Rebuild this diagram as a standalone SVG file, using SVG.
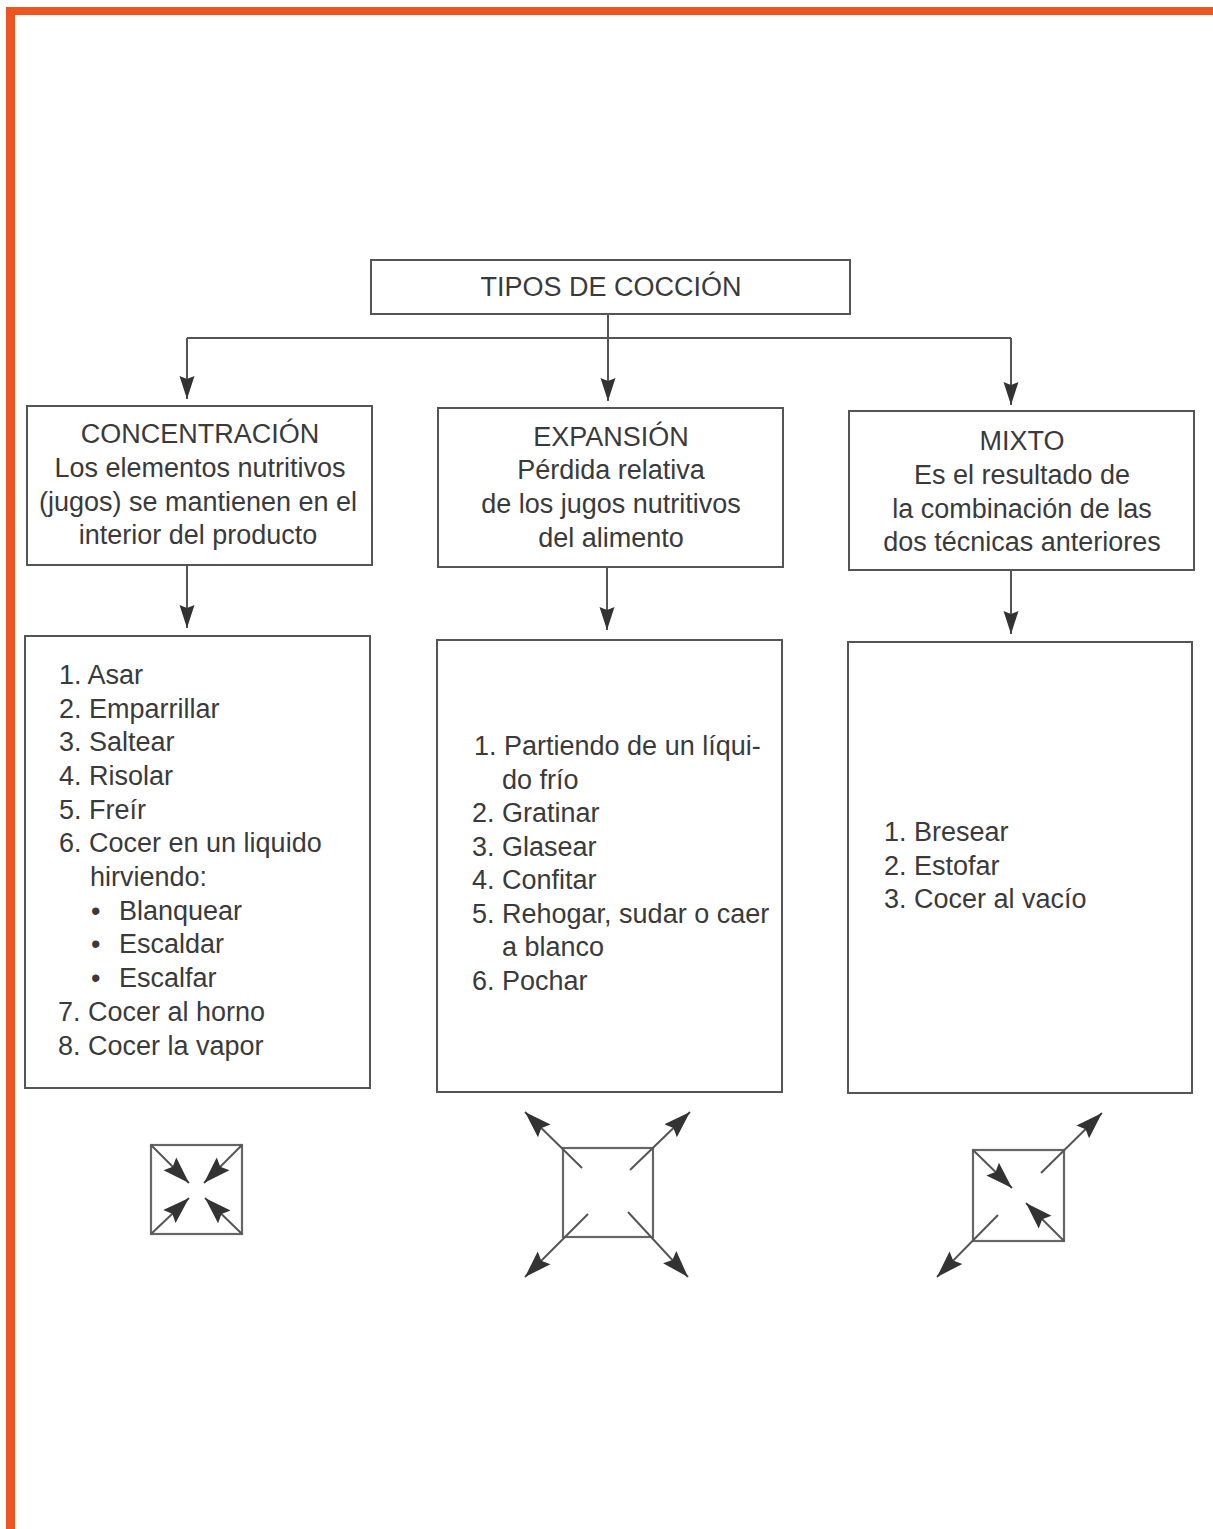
<svg xmlns="http://www.w3.org/2000/svg" width="1213" height="1529" viewBox="0 0 1213 1529">
<defs>
<style>
.box{fill:none;stroke:#555;stroke-width:2}
.t{font-family:"Liberation Sans",Arial,sans-serif;font-size:27px;fill:#3a3a3a}
.c{text-anchor:middle}
.ln{stroke:#555;stroke-width:2;fill:none}
.sq{fill:none;stroke:#666;stroke-width:2.2}
</style>
<marker id="ah" markerUnits="userSpaceOnUse" markerWidth="24" markerHeight="18" viewBox="0 0 24 18" refX="23" refY="9" orient="auto">
<path d="M0,1.5 L23,9 L0,16.5 L3,9 Z" fill="#333"/>
</marker>
<marker id="ahb" markerUnits="userSpaceOnUse" markerWidth="28" markerHeight="22" viewBox="0 0 28 22" refX="27" refY="11" orient="auto">
<path d="M0,2 L27,11 L0,20 L4,11 Z" fill="#333"/>
</marker>
</defs>
<rect x="0" y="0" width="1213" height="1529" fill="#ffffff"/>
<rect x="6" y="7" width="1207" height="8" fill="#EC5422"/>
<rect x="6" y="7" width="9" height="1522" fill="#EC5422"/>

<g id="connectors">
<path class="ln" d="M608,314 V338"/>
<path class="ln" d="M187,338 H1011"/>
<path class="ln" d="M187,338 V399" marker-end="url(#ah)"/>
<path class="ln" d="M608,338 V401" marker-end="url(#ah)"/>
<path class="ln" d="M1011,338 V405" marker-end="url(#ah)"/>
<path class="ln" d="M187,565 V628" marker-end="url(#ah)"/>
<path class="ln" d="M607,567 V630" marker-end="url(#ah)"/>
<path class="ln" d="M1011,570 V634" marker-end="url(#ah)"/>
</g>

<g id="tipos">
<rect class="box" x="371" y="260" width="479" height="54"/>
<text class="t c" x="611" y="296">TIPOS DE COCCIÓN</text>
</g>

<g id="concentracion">
<rect class="box" x="27" y="406" width="345" height="159"/>
<text class="t c" x="200" y="443">CONCENTRACIÓN</text>
<text class="t c" x="200" y="477">Los elementos nutritivos</text>
<text class="t c" x="198" y="511">(jugos) se mantienen en el</text>
<text class="t c" x="198" y="544">interior del producto</text>
</g>

<g id="expansion">
<rect class="box" x="438" y="408" width="345" height="159"/>
<text class="t c" x="611" y="446">EXPANSIÓN</text>
<text class="t c" x="611" y="479">Pérdida relativa</text>
<text class="t c" x="611" y="513">de los jugos nutritivos</text>
<text class="t c" x="611" y="547">del alimento</text>
</g>

<g id="mixto">
<rect class="box" x="849" y="411" width="345" height="159"/>
<text class="t c" x="1022" y="450">MIXTO</text>
<text class="t c" x="1022" y="484">Es el resultado de</text>
<text class="t c" x="1022" y="518">la combinación de las</text>
<text class="t c" x="1022" y="551">dos técnicas anteriores</text>
</g>

<g id="lista-concentracion">
<rect class="box" x="25" y="636" width="345" height="452"/>
<text class="t" x="59" y="684">1. Asar</text>
<text class="t" x="59" y="718">2. Emparrillar</text>
<text class="t" x="59" y="751">3. Saltear</text>
<text class="t" x="59" y="785">4. Risolar</text>
<text class="t" x="59" y="819">5. Freír</text>
<text class="t" x="59" y="852">6. Cocer en un liquido</text>
<text class="t" x="90" y="886">hirviendo:</text>
<text class="t" x="91" y="920">•</text><text class="t" x="119" y="920">Blanquear</text>
<text class="t" x="91" y="953">•</text><text class="t" x="119" y="953">Escaldar</text>
<text class="t" x="91" y="987">•</text><text class="t" x="119" y="987">Escalfar</text>
<text class="t" x="58" y="1021">7. Cocer al horno</text>
<text class="t" x="58" y="1055">8. Cocer la vapor</text>
</g>

<g id="lista-expansion">
<rect class="box" x="437" y="640" width="345" height="452"/>
<text class="t" x="474" y="755">1. Partiendo de un líqui-</text>
<text class="t" x="502" y="789">do frío</text>
<text class="t" x="472" y="822">2. Gratinar</text>
<text class="t" x="472" y="856">3. Glasear</text>
<text class="t" x="472" y="889">4. Confitar</text>
<text class="t" x="472" y="923">5. Rehogar, sudar o caer</text>
<text class="t" x="502" y="956">a blanco</text>
<text class="t" x="472" y="990">6. Pochar</text>
</g>

<g id="lista-mixto">
<rect class="box" x="848" y="642" width="344" height="451"/>
<text class="t" x="884" y="841">1. Bresear</text>
<text class="t" x="884" y="875">2. Estofar</text>
<text class="t" x="884" y="908">3. Cocer al vacío</text>
</g>

<g id="simbolo-concentracion">
<rect class="sq" x="151" y="1145" width="91" height="89"/>
<path class="ln" d="M151,1145 L189,1183" marker-end="url(#ahb)"/>
<path class="ln" d="M242,1145 L204,1183" marker-end="url(#ahb)"/>
<path class="ln" d="M151,1234 L189,1198" marker-end="url(#ahb)"/>
<path class="ln" d="M242,1234 L205,1198" marker-end="url(#ahb)"/>
</g>

<g id="simbolo-expansion">
<rect class="sq" x="563" y="1148" width="90" height="89"/>
<path class="ln" d="M582,1168 L525,1112" marker-end="url(#ahb)"/>
<path class="ln" d="M630,1170 L690,1112" marker-end="url(#ahb)"/>
<path class="ln" d="M588,1214 L525,1277" marker-end="url(#ahb)"/>
<path class="ln" d="M628,1212 L688,1277" marker-end="url(#ahb)"/>
</g>

<g id="simbolo-mixto">
<rect class="sq" x="973" y="1150" width="91" height="91"/>
<path class="ln" d="M973,1150 L1012,1188" marker-end="url(#ahb)"/>
<path class="ln" d="M1064,1241 L1026,1203" marker-end="url(#ahb)"/>
<path class="ln" d="M1041,1173 L1102,1113" marker-end="url(#ahb)"/>
<path class="ln" d="M998,1215 L937,1277" marker-end="url(#ahb)"/>
</g>
</svg>
